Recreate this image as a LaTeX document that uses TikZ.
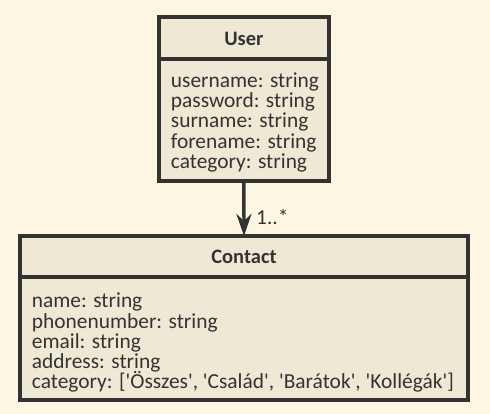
\documentclass[tikz,border=0pt]{standalone}
\usepackage{fontspec}
\setmainfont{Carlito}
\usetikzlibrary{arrows.meta}
\definecolor{bgc}{HTML}{FDF6E3}
\definecolor{boxc}{HTML}{EEE8D5}
\definecolor{linec}{HTML}{333333}
\newcommand{\sq}{\textquotesingle}
\tikzset{
  umlbox/.style={draw=linec, fill=boxc, line width=4pt, rectangle, outer sep=0pt, inner sep=0pt},
  divider/.style={draw=linec, line width=4pt},
  attr/.style={anchor=base west, inner sep=0pt, text=linec, font=\fontsize{21.4}{20}\selectfont},
  title/.style={inner sep=0pt, text=linec, font=\fontsize{20.5}{20}\selectfont\bfseries},
  assoc/.style={draw=linec, line width=3.4pt, -{Stealth[length=22pt, width=15pt, inset=7pt]}},
}
\begin{document}
\begin{tikzpicture}[x=1pt,y=-1pt]
\useasboundingbox[fill=bgc] (0,0) rectangle (490,414);
% User
\node[umlbox, minimum width=169.7pt, minimum height=163.5pt] (user) at (243.85,99.25) {};
\coordinate (ud) at (0,58.7);
\draw[divider] (user.west |- ud) -- (user.east |- ud);
\node[title] (usert) at (243.85,38.5) {User};
\foreach \t [count=\i] in {username: string, password: string, surname: string, forename: string, category: string}
  \node[attr] (ua\i) at (170.7, 87.3+20.3*\i-20.3) {\t};
% Contact
\node[umlbox, minimum width=448pt, minimum height=164pt] (contact) at (244,318) {};
\coordinate (cd) at (0,277);
\draw[divider] (contact.west |- cd) -- (contact.east |- cd);
\node[title] (contactt) at (244,257) {Contact};
\node[attr] (ca1) at (31.7,307.7) {name: string};
\node[attr] (ca2) at (31.7,328.0) {phonenumber: string};
\node[attr] (ca3) at (31.7,348.3) {email: string};
\node[attr] (ca4) at (31.7,368.6) {address: string};
\node[attr] (ca5) at (31.7,388.9) {category: [\sq Összes\sq, \sq Család\sq, \sq Barátok\sq, \sq Kollégák\sq]};
% association
\draw[assoc] (user.south) -- (contact.north);
\node[attr] (mult) at (256,225) {1..*};
\end{tikzpicture}
\end{document}
